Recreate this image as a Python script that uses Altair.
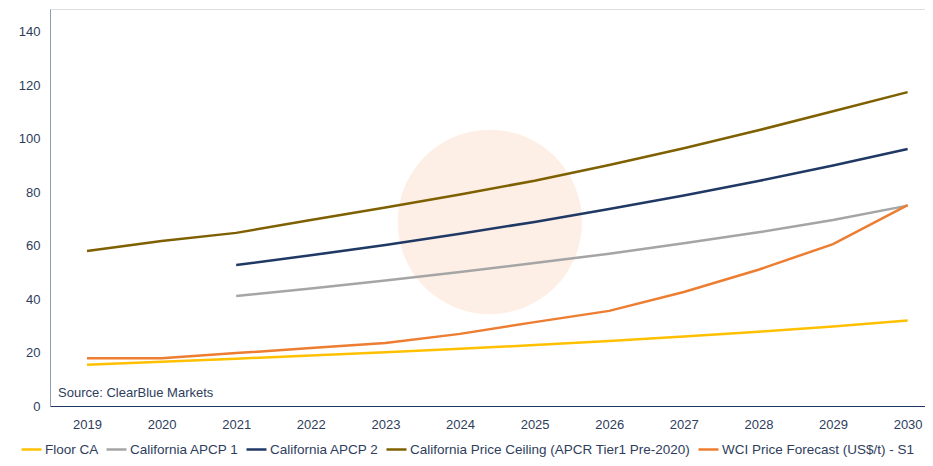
import altair as alt
import pandas as pd

# ---- data ----
years = list(range(2019, 2031))
late_years = list(range(2021, 2031))
floor_ca = [15.4, 16.6, 17.7, 18.9, 20.1, 21.4, 22.8, 24.3, 26.0, 27.8, 29.8, 32.0]
apcp1 = [41.2, 44.0, 47.0, 50.2, 53.5, 57.0, 60.9, 65.0, 69.6, 75.0]
apcp2 = [52.8, 56.4, 60.3, 64.5, 68.9, 73.7, 78.8, 84.2, 90.0, 96.2]
ceiling = [58.0, 61.8, 64.8, 69.6, 74.3, 79.2, 84.3, 90.2, 96.5, 103.2, 110.3, 117.5]
wci = [17.9, 17.9, 19.8, 21.7, 23.6, 27.0, 31.4, 35.6, 42.7, 51.0, 60.6, 75.2]

series_names = [
    "Floor CA",
    "California APCP 1",
    "California APCP 2",
    "California Price Ceiling (APCR Tier1 Pre-2020)",
    "WCI Price Forecast (US$/t) - S1",
]
series_colors = ["#FFC000", "#A5A5A5", "#1F3864", "#7F6000", "#ED7D31"]

rows = []
for name, xs, vals in [
    (series_names[0], years, floor_ca),
    (series_names[1], late_years, apcp1),
    (series_names[2], late_years, apcp2),
    (series_names[3], years, ceiling),
    (series_names[4], years, wci),
]:
    for x, v in zip(xs, vals):
        rows.append({"year": x, "value": v, "series": name, "order": series_names.index(name)})
df = pd.DataFrame(rows)

# watermark position (data coords)
wm = pd.DataFrame({"year": [2024.4], "value": [68.9]})

label_color = "#2E3D5C"

x_scale = alt.Scale(domain=[2018.504, 2030.233], nice=False, zero=False)
y_scale = alt.Scale(domain=[0, 148.6], nice=False)

watermark = alt.Chart(wm).mark_point(
    filled=True, color="#F8CBAD", opacity=0.3, size=34000, shape="circle"
).encode(
    x=alt.X("year:Q", scale=x_scale),
    y=alt.Y("value:Q", scale=y_scale),
)

lines = alt.Chart(df).mark_line(strokeWidth=2.5).encode(
    x=alt.X(
        "year:Q",
        scale=x_scale,
        axis=alt.Axis(
            values=years, format="d", title=None, grid=False, ticks=False,
            labelFontSize=13, labelColor=label_color, labelPadding=12,
            domainColor="#1F3864", domainWidth=1.2, labelFlush=False,
        ),
    ),
    y=alt.Y(
        "value:Q",
        scale=y_scale,
        axis=alt.Axis(
            values=[0, 20, 40, 60, 80, 100, 120, 140], title=None, grid=False,
            ticks=False, labelFontSize=13, labelColor=label_color, labelPadding=10,
            domainColor="#8E9BB5", domainWidth=1,
        ),
    ),
    color=alt.Color(
        "series:N",
        scale=alt.Scale(domain=series_names, range=series_colors),
        sort=series_names,
        legend=alt.Legend(
            title=None, orient="none", legendX=-30, legendY=429,
            direction="horizontal", columns=5, symbolType="stroke",
            symbolStrokeWidth=2.5, symbolSize=400, labelFontSize=13.5,
            labelColor=label_color, columnPadding=2, labelOffset=2,
            labelLimit=400,
        ),
    ),
    detail="series:N",
    order="order:Q",
)

source = alt.Chart(pd.DataFrame({"t": ["Source: ClearBlue Markets"]})).mark_text(
    align="left", baseline="middle", fontSize=13, color=label_color
).encode(
    x=alt.value(8),
    y=alt.value(384),
    text="t:N",
)

chart = alt.layer(watermark, lines, source).properties(
    width=875,
    height=397,
    autosize=alt.AutoSizeParams(type="none"),
    padding={"left": 42, "top": 1, "right": 0, "bottom": 52},
).configure_view(stroke=None).configure(font="Liberation Sans")

chart.save("out.html", embed_options={"renderer": "svg", "actions": False})
